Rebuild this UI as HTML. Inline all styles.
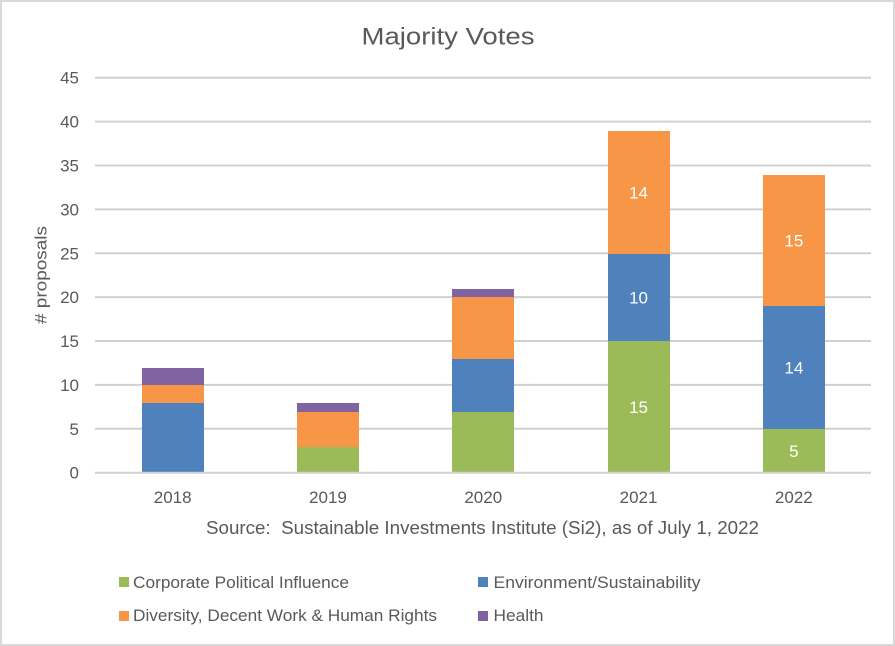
<!DOCTYPE html>
<html lang="en">
<head>
<meta charset="utf-8">
<title>Majority Votes</title>
<style>
html,body{margin:0;padding:0;background:#fff;}
svg{display:block;font-family:"Liberation Sans",sans-serif;}
text{fill:#595959;}
</style>
</head>
<body>
<svg id="chart" width="895" height="646" viewBox="0 0 895 646" xmlns="http://www.w3.org/2000/svg">
  <rect x="0" y="0" width="895" height="646" fill="#ffffff"/>
  <rect x="1" y="1" width="893" height="644" fill="none" stroke="#d9d9d9" stroke-width="2"/>
  <text x="448" y="44.5" font-size="24" text-anchor="middle" textLength="173" lengthAdjust="spacingAndGlyphs">Majority Votes</text>
  <text transform="translate(46.5,275) rotate(-90)" font-size="17" text-anchor="middle" textLength="98" lengthAdjust="spacingAndGlyphs"># proposals</text>
  <g id="gridlines"></g>
  <g id="y-ticks"></g>
  <g id="bars"></g>
  <g id="baseline"></g>
  <g id="x-ticks"></g>
  <text x="482.5" y="534" font-size="18" text-anchor="middle" textLength="553" lengthAdjust="spacingAndGlyphs" xml:space="preserve">Source:  Sustainable Investments Institute (Si2), as of July 1, 2022</text>
  <g>
    <g>
      <rect x="119" y="577" width="10" height="10" fill="#9bbb59"/>
      <text x="133" y="588" font-size="17" textLength="216" lengthAdjust="spacingAndGlyphs">Corporate Political Influence</text>
    </g>
    <g>
      <rect x="478" y="577" width="10" height="10" fill="#4f81bd"/>
      <text x="493.5" y="588" font-size="17" textLength="207" lengthAdjust="spacingAndGlyphs">Environment/Sustainability</text>
    </g>
    <g>
      <rect x="119" y="611" width="10" height="10" fill="#f79646"/>
      <text x="133" y="621" font-size="17" textLength="304" lengthAdjust="spacingAndGlyphs">Diversity, Decent Work &amp; Human Rights</text>
    </g>
    <g>
      <rect x="478" y="611" width="10" height="10" fill="#8064a2"/>
      <text x="493.5" y="621" font-size="17" textLength="50" lengthAdjust="spacingAndGlyphs">Health</text>
    </g>
  </g>
</svg>
<script>
const categories = ['2018', '2019', '2020', '2021', '2022'];
const corporatePolitical = [0, 3, 7, 15, 5];
const environment = [8, 0, 6, 10, 14];
const diversity = [2, 4, 7, 14, 15];
const health = [2, 1, 1, 0, 0];
const yTicks = [0, 5, 10, 15, 20, 25, 30, 35, 40, 45];
const labelledCategories = ['2021', '2022'];

const NS = 'http://www.w3.org/2000/svg';
const plotLeft = 95, plotRight = 871.5, plotBottom = 472.7, plotTop = 77.7;
const yMax = 45;
const barWidth = 62;
const yScale = v => plotBottom - (v / yMax) * (plotBottom - plotTop);
const xCenter = i => plotLeft + (i + 0.5) * (plotRight - plotLeft) / categories.length;
const snapY = y => Math.round(y + 0.3);

const series = [
  { key: 'corporate', values: corporatePolitical, color: '#9bbb59' },
  { key: 'environment', values: environment, color: '#4f81bd' },
  { key: 'diversity', values: diversity, color: '#f79646' },
  { key: 'health', values: health, color: '#8064a2' }
];

const gridG = document.getElementById('gridlines');
const yG = document.getElementById('y-ticks');
const barsG = document.getElementById('bars');
const baseG = document.getElementById('baseline');
const xG = document.getElementById('x-ticks');

yTicks.forEach(t => {
  const line = document.createElementNS(NS, 'line');
  
  
  line.setAttribute('x1', plotLeft);
  line.setAttribute('x2', 871);
  line.setAttribute('y1', yScale(t));
  line.setAttribute('y2', yScale(t));
  line.setAttribute('stroke', '#d0d0d0');
  line.setAttribute('stroke-width', '2');
  (t === 0 ? baseG : gridG).appendChild(line);

  const label = document.createElementNS(NS, 'text');
  
  
  label.setAttribute('x', 79);
  label.setAttribute('y', yScale(t) + 6);
  label.setAttribute('text-anchor', 'end');
  label.setAttribute('font-size', '17');
  label.textContent = t;
  yG.appendChild(label);
});

categories.forEach((cat, i) => {
  let cumulative = 0;
  series.forEach(s => {
    const v = s.values[i];
    if (v <= 0) return;
    const top = snapY(yScale(cumulative + v));
    const bottom = snapY(yScale(cumulative));
    const rect = document.createElementNS(NS, 'rect');
    
    
    rect.setAttribute('x', Math.round(xCenter(i) - barWidth / 2));
    rect.setAttribute('y', top);
    rect.setAttribute('width', barWidth);
    rect.setAttribute('height', bottom - top);
    rect.setAttribute('fill', s.color);
    barsG.appendChild(rect);

    if (labelledCategories.includes(cat)) {
      const val = document.createElementNS(NS, 'text');
      
      
      val.setAttribute('x', xCenter(i));
      val.setAttribute('y', (top + bottom) / 2 + 6);
      val.setAttribute('text-anchor', 'middle');
      val.setAttribute('font-size', '17');
      val.setAttribute('style', 'fill:#ffffff');
      val.textContent = v;
      barsG.appendChild(val);
    }
    cumulative += v;
  });

  const label = document.createElementNS(NS, 'text');
  
  
  label.setAttribute('x', xCenter(i));
  label.setAttribute('y', 503);
  label.setAttribute('text-anchor', 'middle');
  label.setAttribute('font-size', '17');
  label.textContent = cat;
  xG.appendChild(label);
});
</script>
</body>
</html>
